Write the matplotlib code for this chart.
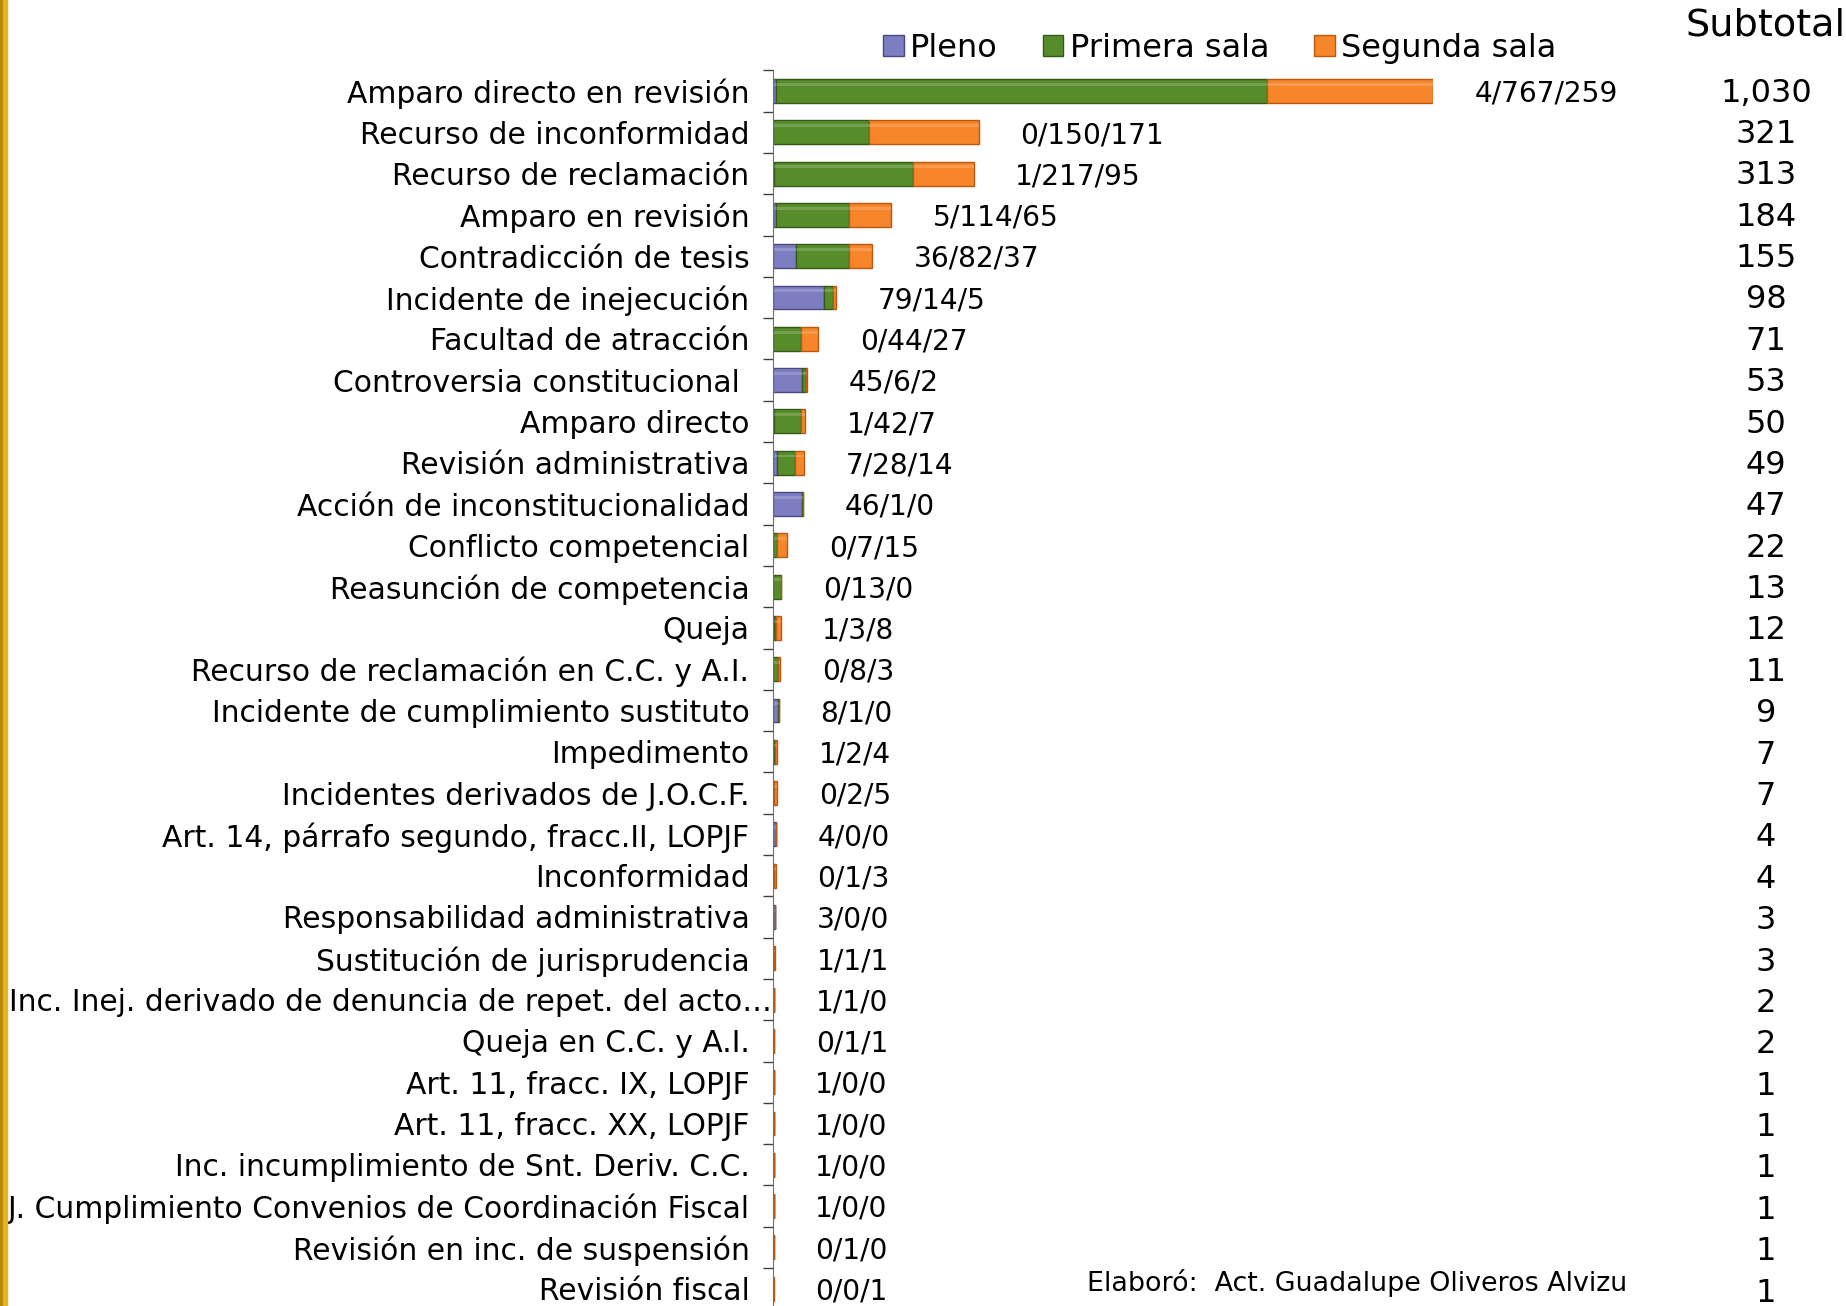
import matplotlib
matplotlib.use("Agg")
import matplotlib.pyplot as plt
from matplotlib.patches import Rectangle, Patch
import numpy as np

categories = [
    "Amparo directo en revisión",
    "Recurso de inconformidad",
    "Recurso de reclamación",
    "Amparo en revisión",
    "Contradicción de tesis",
    "Incidente de inejecución",
    "Facultad de atracción",
    "Controversia constitucional ",
    "Amparo directo",
    "Revisión administrativa",
    "Acción de inconstitucionalidad",
    "Conflicto competencial",
    "Reasunción de competencia",
    "Queja",
    "Recurso de reclamación en C.C. y A.I.",
    "Incidente de cumplimiento sustituto",
    "Impedimento",
    "Incidentes derivados de J.O.C.F.",
    "Art. 14, párrafo segundo, fracc.II, LOPJF",
    "Inconformidad",
    "Responsabilidad administrativa",
    "Sustitución de jurisprudencia",
    "Inc. Inej. derivado de denuncia de repet. del acto…",
    "Queja en C.C. y A.I.",
    "Art. 11, fracc. IX, LOPJF",
    "Art. 11, fracc. XX, LOPJF",
    "Inc. incumplimiento de Snt. Deriv. C.C.",
    "J. Cumplimiento Convenios de Coordinación Fiscal",
    "Revisión en inc. de suspensión",
    "Revisión fiscal",
]
pleno = [4, 0, 1, 5, 36, 79, 0, 45, 1, 7, 46, 0, 0, 1, 0, 8, 1, 0, 4, 0, 3, 1, 1, 0, 1, 1, 1, 1, 0, 0]
primera = [767, 150, 217, 114, 82, 14, 44, 6, 42, 28, 1, 7, 13, 3, 8, 1, 2, 2, 0, 1, 0, 1, 1, 1, 0, 0, 0, 0, 1, 0]
segunda = [259, 171, 95, 65, 37, 5, 27, 2, 7, 14, 0, 15, 0, 8, 3, 0, 4, 5, 0, 3, 0, 1, 0, 1, 0, 0, 0, 0, 0, 1]
series_names = ["Pleno", "Primera sala", "Segunda sala"]

W, H = 1846, 1306
fig = plt.figure(figsize=(W / 100, H / 100), dpi=100)
plt.rcParams['font.family'] = ['DejaVu Sans']

n = len(categories)
row_px = 41.3
ax_left, ax_right = 773, 1433
top_px = 91 - row_px / 2
ax_h = n * row_px
ax = fig.add_axes([ax_left / W, 1 - (top_px + ax_h) / H, (ax_right - ax_left) / W, ax_h / H])

y = np.arange(n)
p = np.array(pleno)
s1 = np.array(primera)
s2 = np.array(segunda)
colors = ["#7d7dc2", "#568c2a", "#f7862a"]
edges = ["#4a4a80", "#355a18", "#b85a10"]
h = 0.58
ax.barh(y, p, height=h, color=colors[0], edgecolor=edges[0], linewidth=1)
ax.barh(y, s1, left=p, height=h, color=colors[1], edgecolor=edges[1], linewidth=1)
ax.barh(y, s2, left=p + s1, height=h, color=colors[2], edgecolor=edges[2], linewidth=1)
# light highlight on upper part of bars (bevel look)
ax.barh(y - h * 0.28, p, height=h * 0.12, color="white", alpha=0.18, linewidth=0)
ax.barh(y - h * 0.28, s1, left=p, height=h * 0.12, color="white", alpha=0.18, linewidth=0)
ax.barh(y - h * 0.28, s2, left=p + s1, height=h * 0.12, color="white", alpha=0.18, linewidth=0)

ax.set_xlim(0, 1030)
ax.set_ylim(n - 0.5, -0.5)
for sp in ["top", "right", "bottom"]:
    ax.spines[sp].set_visible(False)
ax.spines["left"].set_color("#707070")
ax.set_xticks([])
ax.set_yticks(y)
ax.set_yticklabels(categories, fontsize=21.4)
ax.tick_params(axis="y", which="major", length=0, pad=17)
ax.set_yticks(np.arange(n + 1) - 0.5, minor=True)
ax.tick_params(axis="y", which="minor", length=7, width=1, color="#404040", direction="out")
# the truncated long label sits right against the axis
ax.yaxis.get_major_ticks()[22].set_pad(1)

totals = p + s1 + s2
for i in range(n):
    lab = f"{pleno[i]}/{primera[i]}/{segunda[i]}"
    ax.annotate(lab, xy=(totals[i], i), xytext=(30, -2), textcoords="offset points",
                ha="left", va="center", fontsize=20.2, annotation_clip=False)
    fig.text(1766 / W, 1 - (93 + i * row_px * 1.002) / H, f"{totals[i]:,}", ha="center",
             va="center", fontsize=23)

fig.text(1766 / W, 1 - 26 / H, "Subtotal", ha="center", va="center", fontsize=27.5)

handles = [Patch(facecolor=colors[k], edgecolor=edges[k]) for k in range(3)]
fig.legend(handles, series_names, loc="center", bbox_to_anchor=(1036 / 1568, 1 - 41 / 1109),
           ncol=3, frameon=False, fontsize=23, handlelength=0.65, handleheight=0.65,
           handletextpad=0.2, columnspacing=1.4)

fig.text(1087 / W, 1 - 1283 / H, "Elaboró:  Act. Guadalupe Oliveros Alvizu", ha="left",
         va="center", fontsize=19.4)

fig.patches.append(Rectangle((0, 0), 3 / W, 1, transform=fig.transFigure, color="#b8860b"))
fig.patches.append(Rectangle((3 / W, 0), 4 / W, 1, transform=fig.transFigure, color="#e4b41c"))

fig.savefig("out.png", dpi=100)
